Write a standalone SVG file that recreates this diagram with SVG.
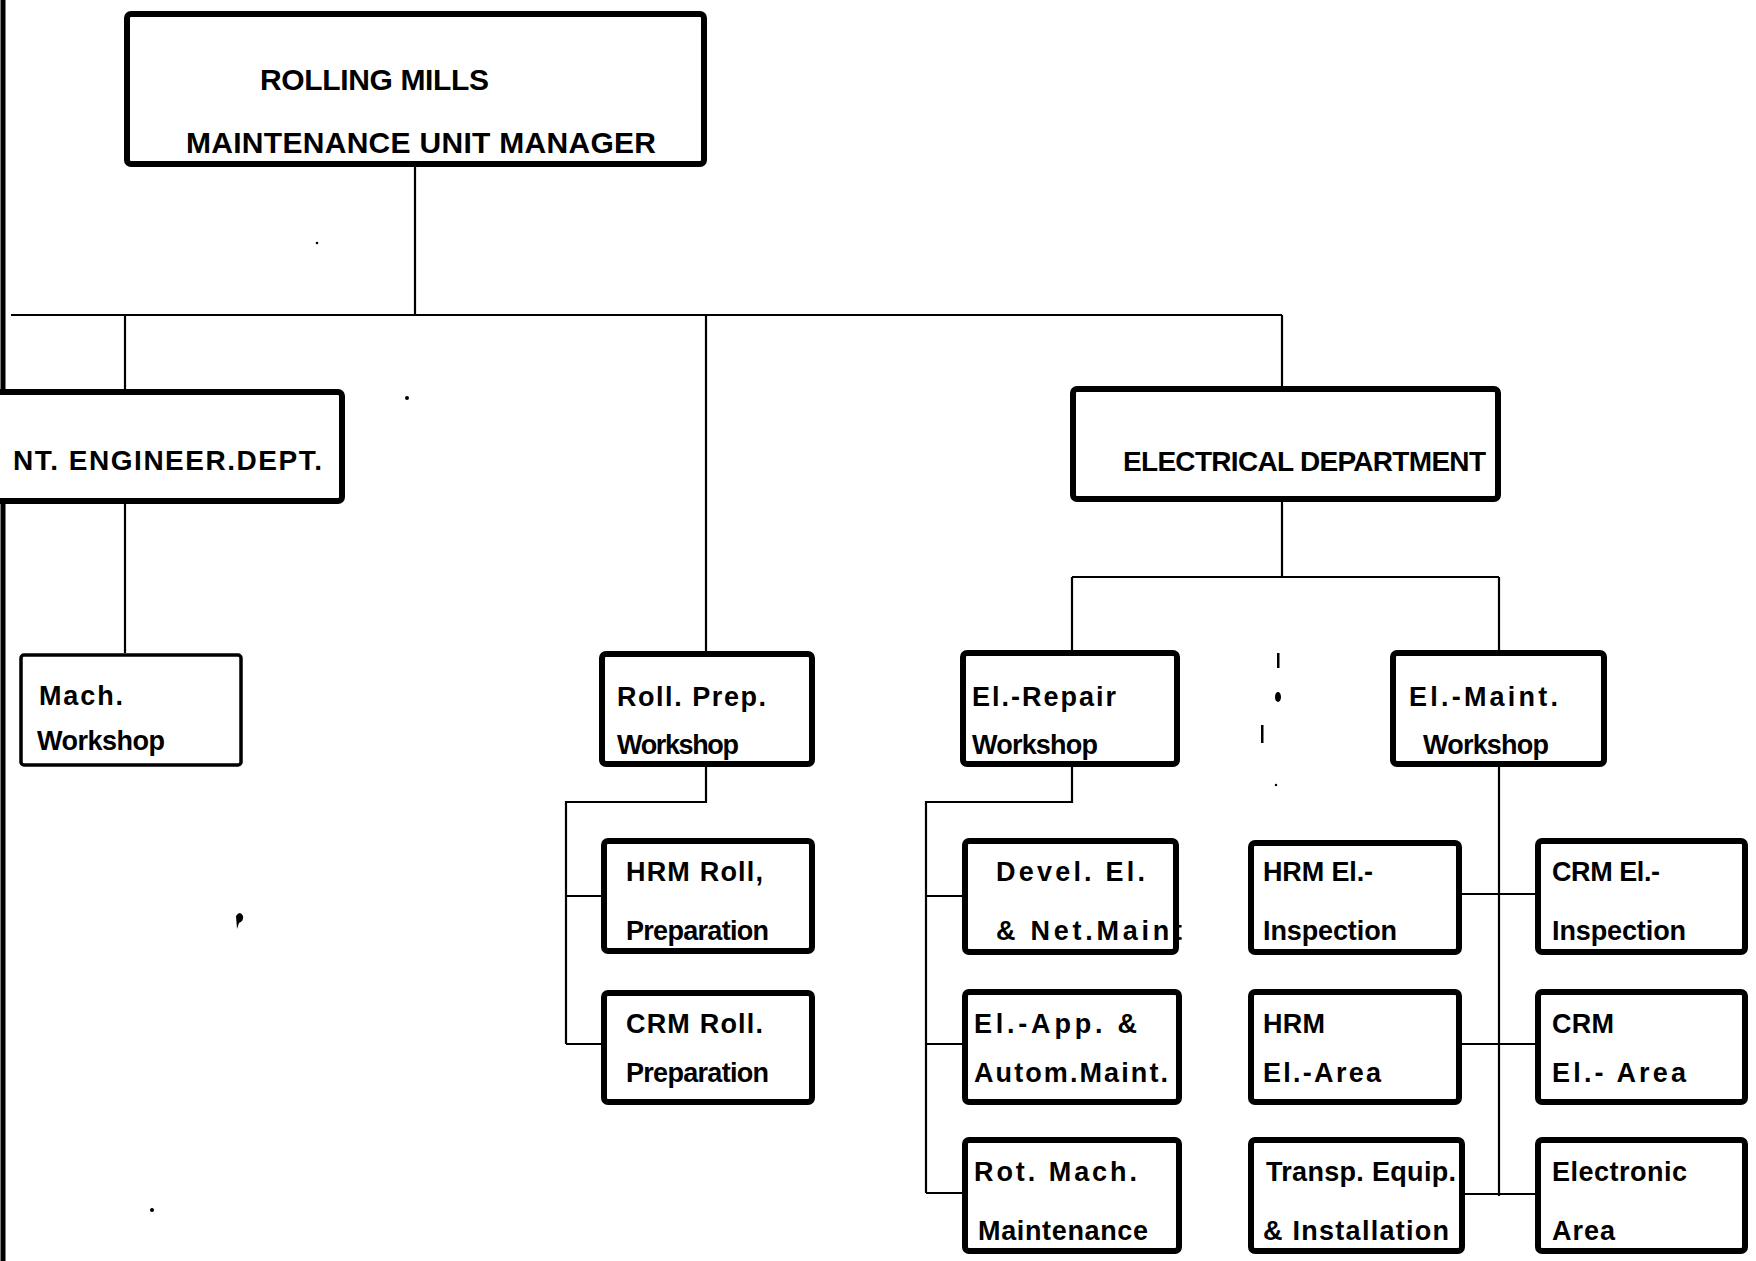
<svg xmlns="http://www.w3.org/2000/svg" width="1756" height="1261" viewBox="0 0 1756 1261">
  <style>
    .box { fill: #ffffff; stroke: #000000; stroke-width: 6; }
    .thin { fill: #ffffff; stroke: #000000; stroke-width: 3.5; }
    .wire { fill: none; stroke: #000000; stroke-width: 2.2; }
    .head { font-family: "Liberation Sans", Arial, sans-serif; font-weight: bold; font-size: 30px; fill: #000; }
    .lbl { font-family: "Liberation Sans", Arial, sans-serif; font-weight: bold; font-size: 27px; fill: #000; }
  </style>

  <rect x="0" y="0" width="1756" height="1261" fill="#ffffff"/>
  <!-- page edge -->
  <path d="M3 0 V1261" stroke="#000" stroke-width="5" fill="none"/>

  <!-- connectors -->
  <g id="connectors" class="wire">
    <path d="M415 166 V315"/>
    <path d="M11 315 H1282"/>
    <path d="M125 315 V389"/>
    <path d="M706 315 V651"/>
    <path d="M1282 315 V386"/>
    <path d="M125 503 V653"/>
    <path d="M1282 501 V577 M1072 577 H1499 M1072 577 V650 M1499 577 V650"/>
    <path d="M706 767 V802 H566 V1044 M566 896 H601 M566 1044 H601"/>
    <path d="M1072 767 V802 H926 V1193 M926 896 H962 M926 1044 H962 M926 1193 H962"/>
    <path d="M1499 767 V1196 M1462 894 H1535 M1462 1044 H1535 M1465 1194 H1535"/>
  </g>

  <g id="n-manager">
    <rect class="box" x="127" y="14" width="577" height="150" rx="4"/>
    <text class="head" x="260" y="90" textLength="229">ROLLING MILLS</text>
    <text class="head" x="186" y="153" textLength="470">MAINTENANCE UNIT MANAGER</text>
  </g>

  <g id="n-engineer">
    <rect class="box" x="-10" y="392" width="352" height="109" rx="4"/>
    <text class="head" x="13" y="470" textLength="309" style="font-size:28px">NT. ENGINEER.DEPT.</text>
  </g>

  <g id="n-electrical">
    <rect class="box" x="1073" y="389" width="425" height="110" rx="4"/>
    <text class="head" x="1123" y="471" textLength="363" style="font-size:28px">ELECTRICAL DEPARTMENT</text>
  </g>

  <g id="n-mach">
    <rect class="thin" x="21" y="655" width="220" height="110" rx="3"/>
    <text class="lbl" x="39" y="705" textLength="84" style="font-weight:600">Mach.</text>
    <text class="lbl" x="37" y="750" textLength="128" style="font-weight:600">Workshop</text>
  </g>

  <g id="n-rollprep">
    <rect class="box" x="602" y="654" width="210" height="110" rx="4"/>
    <text class="lbl" x="617" y="706" textLength="149">Roll. Prep.</text>
    <text class="lbl" x="617" y="754" textLength="122">Workshop</text>
  </g>

  <g id="n-elrepair">
    <rect class="box" x="963" y="653" width="214" height="111" rx="4"/>
    <text class="lbl" x="972" y="706" textLength="144">El.-Repair</text>
    <text class="lbl" x="972" y="754" textLength="126">Workshop</text>
  </g>

  <g id="n-elmaint">
    <rect class="box" x="1393" y="653" width="211" height="111" rx="4"/>
    <text class="lbl" x="1409" y="706" textLength="149">El.-Maint.</text>
    <text class="lbl" x="1423" y="754" textLength="126">Workshop</text>
  </g>

  <g id="n-hrmroll">
    <rect class="box" x="604" y="841" width="208" height="110" rx="4"/>
    <text class="lbl" x="626" y="881" textLength="137">HRM Roll,</text>
    <text class="lbl" x="626" y="940" textLength="143">Preparation</text>
  </g>

  <g id="n-crmroll">
    <rect class="box" x="604" y="993" width="208" height="109" rx="4"/>
    <text class="lbl" x="626" y="1033" textLength="137">CRM Roll.</text>
    <text class="lbl" x="626" y="1082" textLength="143">Preparation</text>
  </g>

  <g id="n-devel">
    <rect class="box" x="965" y="841" width="211" height="111" rx="4"/>
    <text class="lbl" x="996" y="881" textLength="149">Devel. El.</text>
    <text class="lbl" x="996" y="940" textLength="186">&amp; Net.Maint</text>
  </g>

  <g id="n-elapp">
    <rect class="box" x="965" y="992" width="214" height="110" rx="4"/>
    <text class="lbl" x="974" y="1033" textLength="163">El.-App. &amp;</text>
    <text class="lbl" x="974" y="1082" textLength="194">Autom.Maint.</text>
  </g>

  <g id="n-rotmach">
    <rect class="box" x="965" y="1140" width="214" height="111" rx="4"/>
    <text class="lbl" x="974" y="1181" textLength="163">Rot. Mach.</text>
    <text class="lbl" x="978" y="1240" textLength="170">Maintenance</text>
  </g>

  <g id="n-hrminsp">
    <rect class="box" x="1251" y="843" width="208" height="109" rx="4"/>
    <text class="lbl" x="1263" y="881" textLength="110">HRM El.-</text>
    <text class="lbl" x="1263" y="940" textLength="134">Inspection</text>
  </g>

  <g id="n-hrmarea">
    <rect class="box" x="1251" y="992" width="208" height="110" rx="4"/>
    <text class="lbl" x="1263" y="1033" textLength="62">HRM</text>
    <text class="lbl" x="1263" y="1082" textLength="118">El.-Area</text>
  </g>

  <g id="n-transp">
    <rect class="box" x="1251" y="1140" width="211" height="111" rx="4"/>
    <text class="lbl" x="1266" y="1181" textLength="190">Transp. Equip.</text>
    <text class="lbl" x="1263" y="1240" textLength="186">&amp; Installation</text>
  </g>

  <g id="n-crminsp">
    <rect class="box" x="1538" y="841" width="207" height="111" rx="4"/>
    <text class="lbl" x="1552" y="881" textLength="108">CRM El.-</text>
    <text class="lbl" x="1552" y="940" textLength="134">Inspection</text>
  </g>

  <g id="n-crmarea">
    <rect class="box" x="1538" y="992" width="207" height="110" rx="4"/>
    <text class="lbl" x="1552" y="1033" textLength="62">CRM</text>
    <text class="lbl" x="1552" y="1082" textLength="134">El.- Area</text>
  </g>

  <g id="n-electronic">
    <rect class="box" x="1538" y="1140" width="207" height="111" rx="4"/>
    <text class="lbl" x="1552" y="1181" textLength="135">Electronic</text>
    <text class="lbl" x="1552" y="1240" textLength="63">Area</text>
  </g>

  <!-- stray ink marks -->
  <g id="specks" fill="#000">
    <circle cx="407" cy="398" r="2"/>
    <circle cx="317" cy="243" r="1.3"/>
    <path d="M236 916 q4 -6 7 0 q1 5 -4 7 l-2 6 z"/>
    <circle cx="152" cy="1210" r="2"/>
    <rect x="1277" y="653" width="2.5" height="15"/>
    <ellipse cx="1278" cy="697" rx="3" ry="5"/>
    <rect x="1261" y="725" width="2.5" height="18"/>
    <circle cx="1276" cy="785" r="1.2"/>
  </g>
</svg>
